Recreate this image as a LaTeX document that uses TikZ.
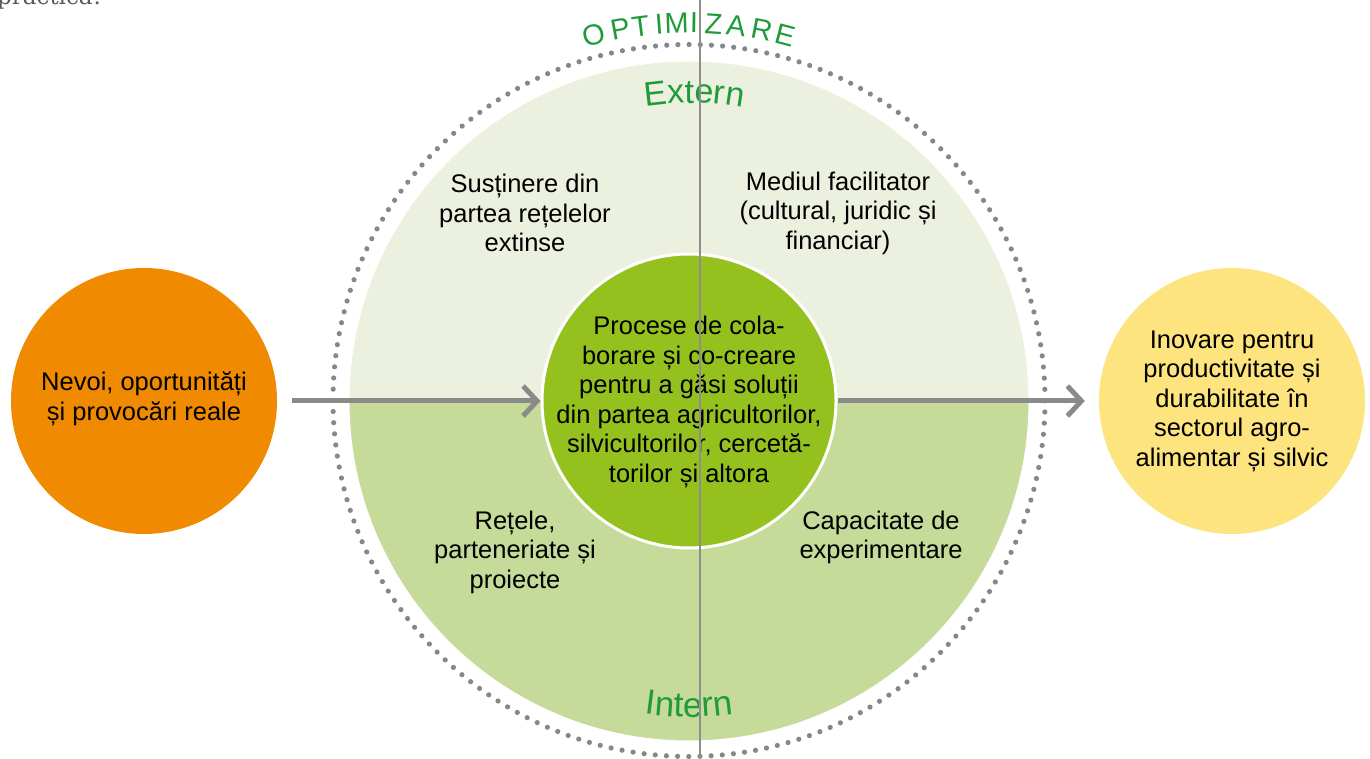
\documentclass[tikz,border=0pt]{standalone}
\usepackage{fontspec}
\setmainfont{Liberation Sans}
\newfontfamily\prfont{DejaVu Serif}
\usetikzlibrary{arrows.meta,decorations.text}
\definecolor{outerlight}{HTML}{EBF1DE}
\definecolor{outerdark}{HTML}{C6DA99}
\definecolor{coregreen}{HTML}{95C11F}
\definecolor{orangec}{HTML}{F08A00}
\definecolor{yellowc}{HTML}{FDE47F}
\definecolor{titlegreen}{HTML}{1F9B3A}
\definecolor{dotgray}{HTML}{878787}
\definecolor{arrowgray}{HTML}{8A8A8A}
\definecolor{vgray}{HTML}{8E8E8E}
\definecolor{prgray}{HTML}{595959}
\begin{document}
\begin{tikzpicture}[x=1pt,y=1pt,
  txt/.style={font=\fontsize{25.5}{29.5}\selectfont, align=center, inner sep=0pt, text=black},
  disc/.style={circle, inner sep=0pt, minimum size=#1},
  flow/.style={draw=arrowgray, line width=5pt, -{Straight Barb[length=14pt,width=30pt,line width=5pt]}},
  arcletter/.style={font=\fontsize{29}{29}\selectfont, text=titlegreen, inner sep=0pt, anchor=base}
]
\useasboundingbox (0,0) rectangle (1370,758);
\clip (0,0) rectangle (1370,758);
\coordinate (C) at (689,357);
% big circle halves
\fill[outerlight] (C) ++(180:340) arc[start angle=180,end angle=0,radius=340] -- cycle;
\fill[outerdark] (C) ++(180:340) arc[start angle=180,end angle=360,radius=340] -- cycle;
\draw[white, line width=1pt] (C) circle[radius=340];
% dotted ring
\draw[dotgray, line width=5.2pt, line cap=round, dash pattern=on 0pt off 11.184pt] (689,357.5) circle[radius=356];
% OPTIMIZARE along arc
\foreach \ch/\ang [count=\i] in {O/104.55, P/100.49, T/97.34, I/94.52, M/91.87, I/89.22, Z/86.26, A/82.82, R/78.88, E/75.20}
  \path (C) ++(\ang:368) node[arcletter, rotate=\ang-90] (opt\i) {\ch};
% Extern / Intern
\path[decorate, decoration={text along path, text align=center, text color=titlegreen,
  text={|\fontsize{34}{34}\selectfont|Extern}}]
  (C) ++(130:298) arc[start angle=130, end angle=48.08, radius=298];
\path[decorate, decoration={text along path, text align=center, text color=titlegreen,
  text={|\fontsize{35}{35}\selectfont|Intern}}]
  (C) ++(230:316) arc[start angle=230, end angle=310, radius=316];
% quadrant texts
\node[txt] (ext1) at (525,545) {Susținere din\\partea rețelelor\\extinse};
\node[txt] (ext2) at (838,545) {Mediul facilitator\\(cultural, juridic și\\financiar)};
\node[txt] (int1) at (515,206) {Rețele,\\parteneriate și\\proiecte};
\node[txt] (int2) at (881,220.5) {Capacitate de\\experimentare};
% side discs
\node[disc=266pt, fill=orangec] (needs) at (144,357) {};
\node[txt] (needstext) at (144,359) {Nevoi, oportunități\\și provocări reale};
\node[disc=266pt, fill=yellowc] (result) at (1232,357) {};
\node[txt] (resulttext) at (1232,357) {Inovare pentru\\productivitate și\\durabilitate în\\sectorul agro-\\alimentar și silvic};
% core
\node[disc=294pt, fill=coregreen, draw=white, line width=3pt] (core) at (C) {};
\node[txt] (coretext) at (689,356) {Procese de cola-\\borare și co-creare\\pentru a găsi soluții\\din partea agricultorilor,\\silvicultorilor, cercetă-\\torilor și altora};
% arrows
\draw[flow, shorten <=15pt] (needs) -- (core);
\draw[flow, shorten >=14pt] (core) -- (result);
% vertical divider
\coordinate (vtop) at (700,758);
\coordinate (vbot) at (700,0);
\draw[vgray, line width=1.2pt] (vtop) -- (vbot);
% cut-off heading
\node[font=\prfont\fontsize{23}{23}\selectfont, text=prgray, anchor=base west, inner sep=0pt] (pr) at (-3,753) {practică!};
\end{tikzpicture}
\end{document}
